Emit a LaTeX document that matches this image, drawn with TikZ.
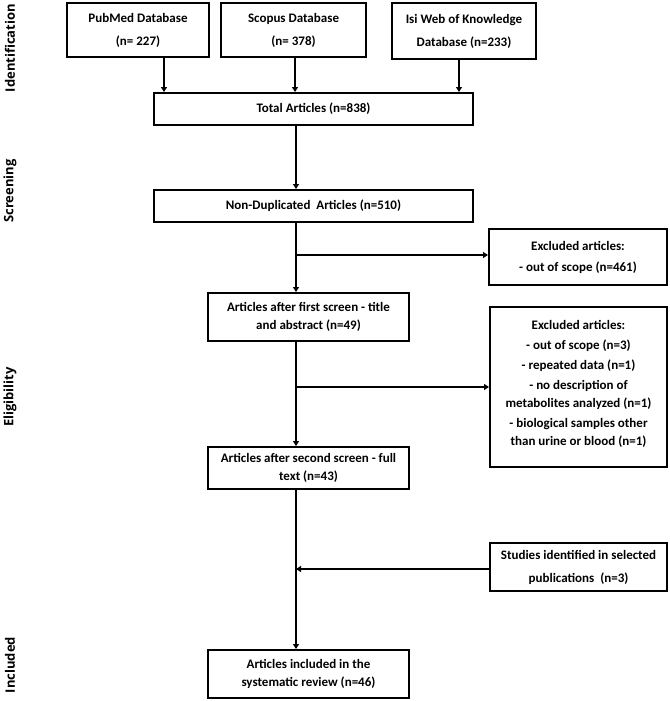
\documentclass[tikz,border=0pt]{standalone}
\usepackage{fontspec}
\setmainfont{Carlito}
\newfontfamily\stagefont{Open Sans}
\usetikzlibrary{arrows.meta}

\tikzset{
  flowbox/.style={draw, line width=2pt, align=center, inner sep=0pt,
    font=\bfseries\fontsize{13}{18}\selectfont},
  flowarrow/.style={line width=2pt, -{Triangle[length=5pt,width=6pt]}},
  stage/.style={rotate=90, font=\stagefont\bfseries\fontsize{13}{15}\selectfont}
}

\begin{document}
\begin{tikzpicture}[x=1pt,y=1pt,yscale=-1,xscale=1]
\useasboundingbox (0,0) rectangle (669,701);

% Stage labels
\node[stage] (identification) at (10,48) {Identification};
\node[stage] (screening) at (10,191) {Screening};
\node[stage] (eligibility) at (10,397) {Eligibility};
\node[stage] (included) at (10,665) {Included};

% Text Node
\node[flowbox, minimum width=142, minimum height=54] (pubmed) at (138,30) {PubMed Database\\[5pt](n= 227)};
% Text Node
\node[flowbox, minimum width=145, minimum height=54] (scopus) at (293.5,30) {Scopus Database\\[5pt](n= 378)};
% Text Node
\node[flowbox, minimum width=144, minimum height=56] (isi) at (464,31) {Isi Web of Knowledge\\[5pt]Database (n=233)};
% Text Node
\node[flowbox, minimum width=319, minimum height=32] (total) at (313.5,109) {Total Articles (n=838)};
% Text Node
\node[flowbox, minimum width=319, minimum height=32] (nondup) at (313.5,206) {Non-Duplicated\ \ Articles (n=510)};
% Text Node
\node[flowbox, minimum width=178, minimum height=56] (excluded1) at (578,257) {Excluded\ articles:\\[3pt]- out\ of scope (n=461)};
% Text Node
\node[flowbox, minimum width=201, minimum height=48] (firstscreen) at (308.5,317) {Articles after first screen - title\\and abstract (n=49)};
% Text Node
\node[flowbox, minimum width=177, minimum height=160] (excluded2) at (578.5,387) {Excluded\ articles:\\[2pt]- out\ of scope (n=3)\\[2pt]- repeated data (n=1)\\[2pt]- no description\ of\\metabolites\ analyzed (n=1)\\[2pt]- biological\ samples other\\than urine or blood\ (n=1)\\[-9pt]\mbox{}};
% Text Node
\node[flowbox, minimum width=201, minimum height=42] (secondscreen) at (308.5,468) {Articles after second screen - full\\text (n=43)};
% Text Node
\node[flowbox, minimum width=177, minimum height=48] (studies) at (578.5,567) {Studies identified\ in selected\\[5pt]publications\ \ (n=3)};
% Text Node
\node[flowbox, minimum width=201, minimum height=48] (review) at (308.5,674) {Articles included\ in the\\systematic review (n=46)};

% Main line
\coordinate (spine) at (296,0);

%Straight Lines
\draw[flowarrow] ([xshift=26pt]pubmed.south) -- ([xshift=26pt]pubmed.south |- total.north);
\draw[flowarrow] ([xshift=1.5pt]scopus.south) -- ([xshift=1.5pt]scopus.south |- total.north);
\draw[flowarrow] ([xshift=-5pt]isi.south) -- ([xshift=-5pt]isi.south |- total.north);
%Straight Lines
\draw[flowarrow] (total.south -| spine) -- (nondup.north -| spine);
\draw[flowarrow] (nondup.south -| spine) -- (firstscreen.north -| spine);
\draw[flowarrow] ([yshift=-2pt]excluded1.west -| spine) -- ([yshift=-2pt]excluded1.west);
\draw[flowarrow] (firstscreen.south -| spine) -- (secondscreen.north -| spine);
\draw[flowarrow] (excluded2.west -| spine) -- (excluded2.west);
\draw[flowarrow] (secondscreen.south -| spine) -- (review.north -| spine);
\draw[flowarrow] ([yshift=2pt]studies.west) -- ([yshift=2pt]studies.west -| spine);

\end{tikzpicture}
\end{document}
